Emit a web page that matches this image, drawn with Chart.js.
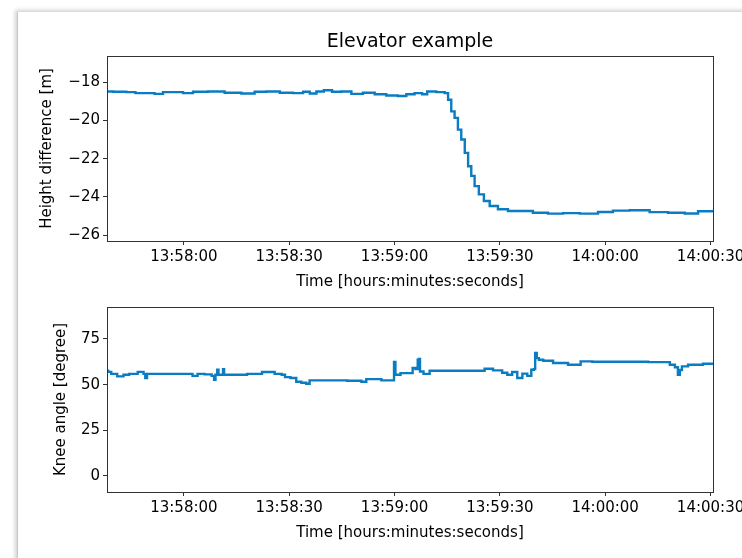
<!DOCTYPE html>
<html>
<head>
<meta charset="utf-8">
<script src="https://cdn.jsdelivr.net/npm/chart.js@4/dist/chart.umd.min.js"></script>
<style>
  html,body{margin:0;padding:0;background:#fff;}
  #page{position:relative;width:742px;height:558px;overflow:hidden;background:#fff;}
  #frame{position:absolute;left:17px;top:12px;width:760px;height:560px;background:#fff;
    border-left:1px solid #c8c8c8;box-shadow:-2px -2px 4px rgba(0,0,0,0.18);}
  canvas{position:absolute;left:0;}
  #c1{top:0;}
  #c2{top:290px;}
</style>
</head>
<body>
<div id="page">
  <div id="frame"></div>
  <canvas id="c1" width="760" height="300" style="width:760px;height:300px"></canvas>
  <canvas id="c2" width="760" height="268" style="width:760px;height:268px"></canvas>
</div>
<script>
// seconds relative to 13:58:00
const BASE_SECONDS = 13*3600 + 58*60;
const xTickSeconds = [0, 30, 60, 90, 120, 150];
const X_MIN = -21.9, X_MAX = 150.7;

// top panel: height difference [m]
const heightTimes = [-21.9,-18.3,-14.5,-13.1,-9.8,-6.9,-5.0,-1.2,0.7,4.5,9.2,14.0,18.7,21.6,25.4,29.2,33.0,34.9,36.8,38.7,41.0,43.4,46.3,49.1,52.9,55.8,59.5,62.4,64.3,67.1,68.6,70.0,73.8,
  74.8,75.7,76.6,77.6,78.5,79.5,80.5,81.4,82.3,83.3,84.7,86.2,88.0,90.9,93.7,97.5,101.3,106.1,109.9,115.6,120.3,124.1,129.8,135.5,140.3,145.0,147.9,150.7];
const heightValues = [-18.49,-18.5,-18.52,-18.57,-18.57,-18.61,-18.52,-18.52,-18.57,-18.5,-18.49,-18.55,-18.59,-18.5,-18.49,-18.55,-18.57,-18.5,-18.59,-18.49,-18.42,-18.5,-18.49,-18.61,-18.55,-18.63,-18.7,-18.72,-18.63,-18.57,-18.63,-18.49,-18.52,
  -18.57,-18.92,-19.53,-19.87,-20.48,-21.0,-21.7,-22.4,-22.9,-23.44,-23.87,-24.22,-24.48,-24.65,-24.74,-24.74,-24.83,-24.88,-24.85,-24.88,-24.79,-24.72,-24.7,-24.8,-24.83,-24.87,-24.75,-24.75];
const heightTicks = [-26, -24, -22, -20, -18];

// bottom panel: knee angle [degree]
const kneeTimes = [-21.9,-21.2,-20.2,-17.8,-16.6,-14.6,-11.7,-11.3,-10.7,-10.3,-5.2,1.6,3.3,4.5,7.3,8.5,8.7,9.3,9.7,10.0,11.0,11.3,11.6,15.9,20.1,24.4,27.3,28.4,29.2,31.5,32.5,34.4,35.3,36.3,42.9,50.1,51.0,52.9,55.8,56.7,59.7,60.0,60.5,62.9,64.8,65.5,66.4,66.8,67.1,67.4,69.1,70.9,78.5,85.1,86.2,89.9,91.4,92.8,94.2,95.7,97.1,98.5,99.4,99.9,100.2,100.8,101.4,103.3,107.0,111.8,114.2,118.4,127.0,137.5,139.3,140.4,141.0,141.5,142.2,145.0,150.7];
const kneeValues = [57.6,57.0,55.9,54.5,55.4,55.9,57.0,55.9,53.6,55.9,55.9,55.9,54.8,55.9,55.6,54.8,52.7,55.4,58.1,55.4,55.4,58.5,55.4,55.4,55.9,56.9,55.9,55.4,54.1,53.6,51.6,51.0,50.5,52.3,52.3,52.1,51.6,53.0,53.0,52.3,52.3,62.4,55.4,56.3,56.3,59.1,58.5,63.6,64.0,57.2,55.9,57.6,57.6,57.6,58.7,57.8,56.5,55.4,56.9,53.6,56.0,54.8,58.1,58.5,67.3,64.5,63.6,63.1,61.8,60.9,62.7,62.5,62.5,62.3,60.9,59.5,55.4,58.0,60.0,60.9,61.4];
const kneeTicks = [0, 25, 50, 75];

const LINE_COLOR = '#0a7cc2';
const FONT = 'DejaVu Sans';

function fmtTime(v){
  const s = Math.round(BASE_SECONDS + v);
  const hh = Math.floor(s/3600), mm = Math.floor((s%3600)/60), ss = s%60;
  return [hh,mm,ss].map(n=>String(n).padStart(2,'0')).join(':');
}

// full box around the plot area (matplotlib spines) + title centred over the axes
const boxPlugin = {
  id:'box',
  afterDraw(chart, args, opts){
    const {ctx, chartArea:a} = chart;
    ctx.save();
    ctx.strokeStyle = '#333';
    ctx.lineWidth = 1;
    ctx.strokeRect(Math.round(a.left)+0.5, Math.round(a.top)+0.5, Math.round(a.right-a.left), Math.round(a.bottom-a.top));
    if(opts.text){
      ctx.fillStyle = '#000';
      ctx.font = `19px "${FONT}"`;
      ctx.textAlign = 'center';
      ctx.textBaseline = 'middle';
      ctx.fillText(opts.text, (a.left+a.right)/2, a.top - 14);
    }
    ctx.restore();
  }
};

function makeChart(id, times, values, yTicks, yMin, yMax, yLabel, opts){
  const pts = times.map((t,i)=>({x:t, y:values[i]}));
  return new Chart(document.getElementById(id), {
    type:'line',
    data:{datasets:[{data:pts, borderColor:LINE_COLOR, borderWidth:2.4, pointRadius:0, stepped:'middle', fill:false}]},
    plugins:[boxPlugin],
    options:{
      responsive:false, animation:false, events:[],
      layout:{padding:{left:20, right:47, top:opts.padTop, bottom:opts.padBottom}},
      plugins:{
        legend:{display:false}, tooltip:{enabled:false}, title:{display:false},
        box:{text:opts.title || ''}
      },
      scales:{
        x:{
          type:'linear', min:X_MIN, max:X_MAX,
          afterBuildTicks:s=>{ s.ticks = xTickSeconds.map(v=>({value:v})); },
          afterFit:s=>{ s.height = 50; },
          grid:{drawOnChartArea:false, drawTicks:true, tickLength:4, tickColor:'#333'},
          border:{color:'#333'},
          ticks:{color:'#000', font:{family:FONT, size:15}, padding:3, maxRotation:0, autoSkip:false, callback:v=>fmtTime(v)},
          title:{display:true, text:'Time [hours:minutes:seconds]', color:'#000', font:{family:FONT, size:15}, padding:{top:0, bottom:0}}
        },
        y:{
          type:'linear', min:yMin, max:yMax,
          afterBuildTicks:s=>{ s.ticks = yTicks.map(v=>({value:v})); },
          afterFit:s=>{ s.width = 87; },
          grid:{drawOnChartArea:false, drawTicks:true, tickLength:4, tickColor:'#333'},
          border:{color:'#333'},
          ticks:{color:'#000', font:{family:FONT, size:15}, padding:3, callback:v=>String(v).replace('-','\u2212')},
          title:{display:true, text:yLabel, color:'#000', font:{family:FONT, size:15}, padding:{top:opts.yTitlePad, bottom:0}}
        }
      }
    }
  });
}

makeChart('c1', heightTimes, heightValues, heightTicks, -26.31, -16.63, 'Height difference [m]',
  {title:'Elevator example', padTop:56, padBottom:9, yTitlePad:18});
makeChart('c2', kneeTimes, kneeValues, kneeTicks, -8.8, 92.5, 'Knee angle [degree]',
  {padTop:17, padBottom:16, yTitlePad:32});
</script>
</body>
</html>
